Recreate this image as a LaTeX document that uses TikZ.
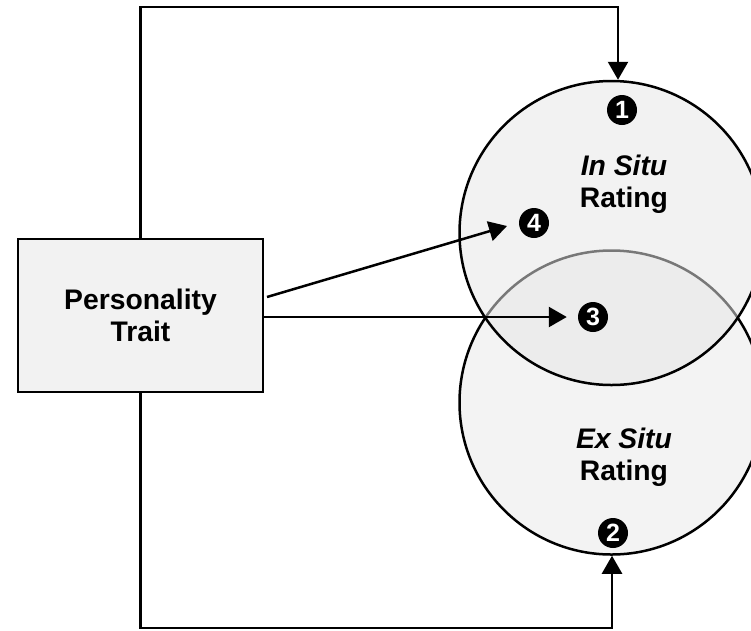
\documentclass[tikz,border=0pt]{standalone}
\usepackage{fontspec}
\setmainfont{Liberation Sans}
\usetikzlibrary{arrows.meta,calc}
\definecolor{boxfill}{RGB}{242,242,242}
\definecolor{exfill}{RGB}{243,243,243}
\definecolor{infill}{RGB}{231,231,231}
\begin{document}
\begin{tikzpicture}[x=1pt,y=-1pt,line width=2.5pt,
  arr/.style={-{Triangle[width=20pt,length=18pt]}},
  numdot/.style={circle,fill=black,text=white,inner sep=0pt,minimum size=30pt,
    font=\fontsize{25}{25}\selectfont\bfseries},
  lbl/.style={align=center,font=\fontsize{28.3}{32.5}\selectfont\bfseries},
  ring/.style={circle,draw=black,minimum size=304pt,inner sep=0pt}]
\useasboundingbox (0,0) rectangle (751,630);
\fill[white] (0,0) rectangle (751,630);
\clip (0,0) rectangle (751,630);
% circles
\node[ring,fill=exfill] (exsitu) at (611.5,402.5) {};
\node[ring,fill=infill,fill opacity=0.52,draw opacity=1] (insitu) at (611.5,233) {};
% box
\node[draw,fill=boxfill,minimum width=245pt,minimum height=153pt,inner sep=0pt,lbl]
  (box) at (140.5,315.5) {Personality\\Trait};
% number markers
\node[numdot] (n1) at (622,110) {1};
\node[numdot] (n2) at (613,533) {2};
\node[numdot] (n3) at (593,317) {3};
\node[numdot] (n4) at (534,223) {4};
% labels
\node[lbl] (inlbl) at (624,184) {\textit{In Situ}\\Rating};
\node[lbl] (exlbl) at (624,457) {\textit{Ex Situ}\\Rating};
% connectors
\coordinate (tc) at (618,7);
\coordinate (bc) at (612,628);
\coordinate (s4) at (267,297);
\coordinate (t4) at (507,226);
\draw[arr] (box.north) |- (tc) -- (tc |- insitu.north);
\draw[arr] (box.south) |- (bc) -- (bc |- exsitu.south);
\draw[arr,shorten >=10pt] (box.east |- n3) -- (n3);
\draw[arr] (s4) -- (t4);
\end{tikzpicture}
\end{document}
